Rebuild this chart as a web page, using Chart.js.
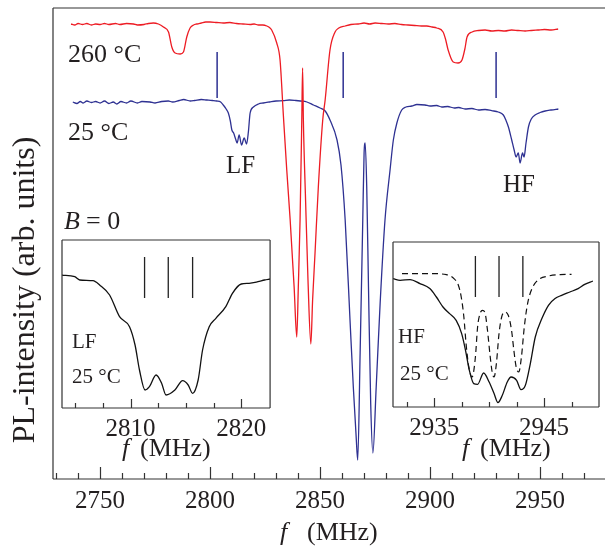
<!DOCTYPE html>
<html>
<head>
<meta charset="utf-8">
<script src="https://cdn.jsdelivr.net/npm/chart.js@4.4.0/dist/chart.umd.min.js"></script>
<style>
  html, body { margin: 0; padding: 0; background: #fff; }
  #wrap { position: relative; width: 605px; height: 546px; overflow: hidden; }
  canvas { position: absolute; }
  #main { left: 0; top: 0; }
  #lf { left: 58px; top: 236px; }
  #hf { left: 389px; top: 238px; }
</style>
</head>
<body>
<div id="wrap">
  <canvas id="main" width="605" height="546"></canvas>
  <canvas id="lf" width="217" height="226"></canvas>
  <canvas id="hf" width="216" height="224"></canvas>
</div>
<script>
// ---- main spectra (frequency in MHz, PL intensity in arb. units) ----
const hotFreq = [2736.8, 2738.5, 2740, 2742, 2744, 2746, 2748, 2750, 2752, 2754, 2757, 2759, 2762, 2765.2, 2767, 2770, 2772, 2774.2, 2776.5, 2778.8, 2781.1, 2782.6, 2784.1, 2786.4, 2787.9, 2789.4, 2790.9, 2792.5, 2794, 2796, 2798, 2800, 2803, 2806, 2809, 2812, 2815, 2818.2, 2820, 2822, 2824, 2825.8, 2827, 2828, 2830.3, 2831.8, 2833.3, 2834.85, 2836.4, 2838.2, 2839.4, 2840.1, 2840.9, 2841.68, 2842.05, 2842.4, 2843.4, 2844.5, 2845.8, 2846.6, 2847.7, 2849.2, 2851.2, 2852.3, 2854.5, 2856.8, 2858.5, 2861.4, 2864, 2867.3, 2870, 2872.5, 2875, 2878, 2881, 2884, 2887, 2890, 2893, 2896, 2898.5, 2900.9, 2903, 2905.9, 2907, 2908.2, 2910.5, 2912.7, 2914.5, 2915.8, 2916.8, 2919.1, 2922, 2925, 2928, 2931, 2934, 2937, 2940, 2943.2, 2946, 2949, 2952, 2955, 2958.2];
const hotPL = [455, 454, 455.5, 454.5, 455.5, 454, 455, 454.5, 455.5, 454.5, 455.5, 454.5, 455.5, 455, 454, 454.5, 455.5, 456, 455, 452, 447, 432, 426, 425, 427, 442, 451, 454, 455, 456, 457, 457, 456.5, 456, 456.5, 455.5, 455, 454.5, 455, 454, 454, 453, 451.5, 449, 436, 419, 364, 309, 259, 192, 142, 192, 259, 359, 411, 359, 279, 199, 135, 179, 226, 292, 359, 379, 429, 447, 451, 453, 454.5, 455, 456, 455, 456, 455.5, 455, 455.5, 454.5, 454, 453.5, 453, 453, 452, 451, 447, 440, 429, 417, 416, 419, 430, 442, 447, 448.5, 449, 448, 448.5, 448, 449, 448.5, 448, 448.5, 449, 449.5, 449, 450];

const roomFreq = [2737.6, 2739.5, 2741, 2742.3, 2744, 2746, 2748, 2750, 2752, 2754, 2756, 2757.6, 2759.5, 2762, 2764, 2767, 2769, 2772.7, 2775, 2778, 2781, 2783, 2786, 2788, 2791, 2793, 2796, 2798.5, 2801, 2803, 2804.8, 2806, 2807.3, 2808.3, 2809.2, 2809.9, 2810.7, 2811.6, 2812.3, 2813.2, 2814.3, 2815.5, 2816.6, 2817.4, 2818.2, 2819.7, 2822, 2824.2, 2827, 2830, 2833.3, 2836, 2839, 2841, 2844, 2847, 2850, 2852.3, 2854.5, 2857.7, 2859.5, 2861.4, 2863.6, 2865.1, 2866.4, 2867.1, 2868.2, 2869.4, 2870, 2870.5, 2871.2, 2872, 2873, 2874, 2875.5, 2877.3, 2879.5, 2881.8, 2883.3, 2884.9, 2887.1, 2889, 2891.7, 2894, 2897.7, 2900, 2903, 2905.3, 2908, 2911, 2913, 2915.9, 2919, 2922, 2925, 2928, 2931, 2933.3, 2934.6, 2935.6, 2937.1, 2938.2, 2939.1, 2940.1, 2940.9, 2942, 2942.7, 2943.6, 2944.7, 2946, 2947.7, 2950, 2952.3, 2955, 2958.3];
const roomPL = [377, 375.5, 377.5, 376, 378, 376.5, 377.5, 376, 378, 375.5, 377, 375, 377.5, 376, 378, 376, 377.5, 377, 376, 377.5, 378, 377, 378.5, 379.5, 378, 378.5, 379.5, 379, 378.5, 378, 377, 374, 370, 366, 358, 349, 346, 340, 336, 344, 334, 341, 335, 347, 366, 372, 375, 376, 377, 378, 378.3, 379, 378.5, 378, 377, 374, 371, 368, 359, 339, 314, 259, 159, 92, 42, 19, 126, 259, 326, 336, 292, 192, 76, 26, 92, 176, 259, 309, 339, 356, 369, 372, 373, 374.5, 374, 373, 373.5, 372, 372.5, 371, 371.5, 370, 370.5, 369, 369.5, 368.3, 367, 364, 358, 352, 339, 329, 322, 326, 316, 326, 322, 336, 352, 360, 364, 366.5, 368, 369, 370];

// zero-field line positions marked above the 25 °C trace
const markerFreq = [2803.2, 2860.5, 2930];
const markerPL = [381, 427];
const mainTickLabels = [2750, 2800, 2850, 2900, 2950];

// ---- LF inset (25 °C) ----
const lfFreq = [2803.75, 2804.95, 2805.4, 2806.6, 2807.2, 2808.1, 2809.0, 2809.9, 2810.4, 2810.8, 2811.3, 2811.7, 2812.3, 2812.8, 2813.2, 2814.0, 2814.7, 2815.2, 2815.6, 2816.1, 2816.5, 2817.1, 2817.7, 2818.6, 2819.2, 2820.0, 2820.7, 2821.5, 2822.1, 2822.6];
const lfPL = [133, 131.3, 128, 127.3, 123, 113, 91.3, 81.3, 63, 38, 18, 21.3, 33, 24.7, 13, 18, 27.3, 23, 14.7, 28, 58, 81.3, 89.7, 101.3, 114.7, 124, 124.7, 126.3, 128, 129];
const lfLines = [2811.26, 2813.4, 2815.6];
const lfTickLabels = [2810, 2820];

// ---- HF inset (25 °C measured, dashed = narrow-line reference) ----
const hfFreq = [2931.26, 2931.9, 2932.8, 2933.7, 2934.6, 2935.2, 2935.8, 2936.4, 2937.0, 2937.5, 2937.85, 2938.2, 2938.6, 2938.95, 2939.5, 2940.0, 2940.45, 2940.8, 2941.2, 2941.65, 2942.0, 2942.5, 2942.9, 2943.3, 2943.75, 2944.2, 2944.8, 2945.4, 2946.0, 2946.6, 2947.35, 2948.1, 2948.7, 2949.45];
const hfPL = [128.4, 126.7, 127.4, 123.4, 118.4, 110, 100, 93.4, 86.7, 73.4, 56.7, 36.7, 23.4, 22.7, 34, 25, 13.4, 4.4, 11.7, 25, 30, 26.7, 17.4, 21.7, 43.4, 70, 88.4, 101.7, 108.4, 111.7, 115, 118.4, 122.7, 126];
const hfRefFreq = [2932.07, 2934.6, 2936.1, 2936.8, 2937.2, 2937.46, 2937.7, 2937.9, 2938.15, 2938.45, 2938.75, 2938.95, 2939.17, 2939.4, 2939.64, 2939.85, 2940.1, 2940.3, 2940.45, 2940.66, 2940.9, 2941.14, 2941.44, 2941.74, 2942.04, 2942.25, 2942.46, 2942.7, 2942.94, 2943.2, 2943.5, 2943.9, 2944.5, 2945.4, 2946.45, 2947.5];
const hfRefPL = [133.4, 133.4, 132.4, 128.4, 121.7, 110, 90, 63.4, 40, 30, 50, 80, 93.4, 96.7, 93.4, 76.7, 50, 33.4, 30, 43.4, 73.4, 90, 95, 91.7, 76.7, 56.7, 40, 35, 50, 80, 103.4, 118.4, 127.4, 131, 132.4, 132.7];
const hfLines = [2938.75, 2940.9, 2943.07];
const hfTickLabels = [2935, 2945];
const insetLinePL = [110, 151];

const RED = '#ed1c24';
const BLUE = '#2e3192';
const INK = '#231f20';
const FONT = '"Liberation Serif", "Times New Roman", serif';

function pts(xs, ys) {
    return xs.map((x, i) => ({ x, y: ys[i] }));
}

// vertical sticks, separated by gaps
function sticks(xs, range) {
    const out = [];
    xs.forEach(x => {
        out.push({ x, y: range[0] }, { x, y: range[1] }, { x, y: null });
    });
    return out;
}

function isLabelled(labels, v) {
    return labels.some(l => Math.abs(l - v) < 1e-6);
}

// box drawn round the plot area
function framePlugin(sides, fill) {
    return {
        id: 'frame',
        beforeDatasetsDraw(chart) {
            const { ctx, chartArea: a } = chart;
            if (fill) {
                ctx.save();
                ctx.fillStyle = '#fff';
                ctx.fillRect(a.left, a.top, a.right - a.left, a.bottom - a.top);
                ctx.restore();
            }
        },
        afterDraw(chart) {
            const { ctx, chartArea: a } = chart;
            ctx.save();
            ctx.strokeStyle = '#333';
            ctx.lineWidth = 1.2;
            ctx.beginPath();
            if (sides.includes('t')) { ctx.moveTo(a.left, a.top); ctx.lineTo(a.right, a.top); }
            if (sides.includes('l')) { ctx.moveTo(a.left, a.top); ctx.lineTo(a.left, a.bottom); }
            if (sides.includes('b')) { ctx.moveTo(a.left, a.bottom); ctx.lineTo(a.right, a.bottom); }
            if (sides.includes('r')) { ctx.moveTo(a.right, a.top); ctx.lineTo(a.right, a.bottom); }
            ctx.stroke();
            ctx.restore();
        }
    };
}

// ticks pointing into the plot
function inwardTicks(labels, majorLen, minorLen) {
    return {
        id: 'inwardTicks',
        afterDraw(chart) {
            const { ctx, chartArea: a } = chart;
            const scale = chart.scales.x;
            ctx.save();
            ctx.strokeStyle = '#333';
            ctx.lineWidth = 1.2;
            ctx.beginPath();
            scale.ticks.forEach(t => {
                const px = Math.round(scale.getPixelForValue(t.value)) + 0.5;
                if (px < a.left + 1 || px > a.right - 1) return;
                const len = isLabelled(labels, t.value) ? majorLen : minorLen;
                ctx.moveTo(px, a.bottom);
                ctx.lineTo(px, a.bottom - len);
            });
            ctx.stroke();
            ctx.restore();
        }
    };
}

// free text, drawn on the baseline
function textPlugin(items) {
    return {
        id: 'freeText',
        afterDraw(chart) {
            const ctx = chart.ctx;
            items.forEach(item => {
                ctx.save();
                ctx.fillStyle = INK;
                ctx.textBaseline = 'alphabetic';
                ctx.translate(item.x, item.y);
                if (item.rot) ctx.rotate(item.rot * Math.PI / 180);
                ctx.font = item.size + 'px ' + FONT;
                ctx.textAlign = item.align || 'left';
                item.parts.forEach(p => {
                    ctx.font = (p.it ? 'italic ' : '') + item.size + 'px ' + FONT;
                    ctx.fillText(p.t, p.dx || 0, 0);
                });
                ctx.restore();
            });
        }
    };
}

function lineSet(data, color, width, dash) {
    return {
        data,
        borderColor: color,
        borderWidth: width,
        borderDash: dash || [],
        pointRadius: 0,
        fill: false,
        spanGaps: false,
        cubicInterpolationMode: 'monotone'
    };
}

function xScale(min, max, step, labels, size, pad, height) {
    return {
        type: 'linear',
        min, max,
        afterFit: s => { s.height = height; },
        grid: { display: false, drawTicks: false, tickLength: 0 },
        border: { display: false },
        ticks: {
            stepSize: step,
            includeBounds: false,
            autoSkip: false,
            maxRotation: 0,
            padding: pad,
            color: INK,
            font: { family: FONT, size },
            callback: v => isLabelled(labels, v) ? String(v) : ''
        }
    };
}

const baseOpts = {
    responsive: false,
    animation: false,
    events: [],
    plugins: { legend: { display: false }, tooltip: { enabled: false } }
};

// main chart
new Chart(document.getElementById('main'), {
    type: 'line',
    data: {
        datasets: [
            lineSet(pts(hotFreq, hotPL), RED, 1.3),
            lineSet(pts(roomFreq, roomPL), BLUE, 1.3),
            Object.assign(lineSet(sticks(markerFreq, markerPL), BLUE, 1.5), { cubicInterpolationMode: 'default', tension: 0 })
        ]
    },
    options: Object.assign({}, baseOpts, {
        layout: { padding: { left: 53, top: 8, right: 0, bottom: 0 } },
        scales: {
            x: xScale(2728.6, 2979.5, 10, mainTickLabels, 25, 7, 67),
            y: { display: false, min: 0, max: 471 }
        }
    }),
    plugins: [
        framePlugin('tlb', false),
        inwardTicks(mainTickLabels, 12, 6),
        textPlugin([
            { x: 68, y: 62, size: 26, parts: [{ t: '260 °C' }] },
            { x: 68, y: 140, size: 26, parts: [{ t: '25 °C' }] },
            { x: 226, y: 173, size: 25, parts: [{ t: 'LF' }] },
            { x: 503, y: 192, size: 25, parts: [{ t: 'HF' }] },
            { x: 64, y: 229, size: 26, parts: [{ t: 'B', it: true }, { t: '= 0', dx: 22 }] },
            { x: 280, y: 540, size: 26, parts: [{ t: 'f', it: true }, { t: '(MHz)', dx: 27 }] },
            { x: 122, y: 456, size: 26, parts: [{ t: 'f', it: true }, { t: '(MHz)', dx: 18 }] },
            { x: 462, y: 456, size: 26, parts: [{ t: 'f', it: true }, { t: '(MHz)', dx: 18 }] },
            { x: 34, y: 290, size: 32, rot: -90, align: 'center', parts: [{ t: 'PL-intensity (arb. units)' }] }
        ])
    ]
});

// LF inset
new Chart(document.getElementById('lf'), {
    type: 'line',
    data: {
        datasets: [
            lineSet(pts(lfFreq, lfPL), '#111', 1.3),
            Object.assign(lineSet(sticks(lfLines, insetLinePL), '#222', 1.3), { cubicInterpolationMode: 'default', tension: 0 })
        ]
    },
    options: Object.assign({}, baseOpts, {
        layout: { padding: { left: 4, top: 4, right: 4, bottom: 0 } },
        scales: {
            x: xScale(2803.8, 2822.6, 2.5, lfTickLabels, 25, 6, 54),
            y: { display: false, min: 0, max: 168 }
        }
    }),
    plugins: [
        framePlugin('tlbr', true),
        inwardTicks(lfTickLabels, 9, 5),
        textPlugin([
            { x: 14, y: 112, size: 21, parts: [{ t: 'LF' }] },
            { x: 14, y: 147, size: 21, parts: [{ t: '25 °C' }] }
        ])
    ]
});

// HF inset
new Chart(document.getElementById('hf'), {
    type: 'line',
    data: {
        datasets: [
            lineSet(pts(hfFreq, hfPL), '#111', 1.3),
            lineSet(pts(hfRefFreq, hfRefPL), '#111', 1.2, [6, 4]),
            Object.assign(lineSet(sticks(hfLines, insetLinePL), '#222', 1.3), { cubicInterpolationMode: 'default', tension: 0 })
        ]
    },
    options: Object.assign({}, baseOpts, {
        layout: { padding: { left: 4, top: 4, right: 3, bottom: 0 } },
        scales: {
            x: xScale(2931.25, 2950, 2.5, hfTickLabels, 25, 6, 55),
            y: { display: false, min: 0, max: 165 }
        }
    }),
    plugins: [
        framePlugin('tlbr', true),
        inwardTicks(hfTickLabels, 9, 5),
        textPlugin([
            { x: 9, y: 105, size: 21, parts: [{ t: 'HF' }] },
            { x: 11, y: 142, size: 21, parts: [{ t: '25 °C' }] }
        ])
    ]
});
</script>
</body>
</html>
